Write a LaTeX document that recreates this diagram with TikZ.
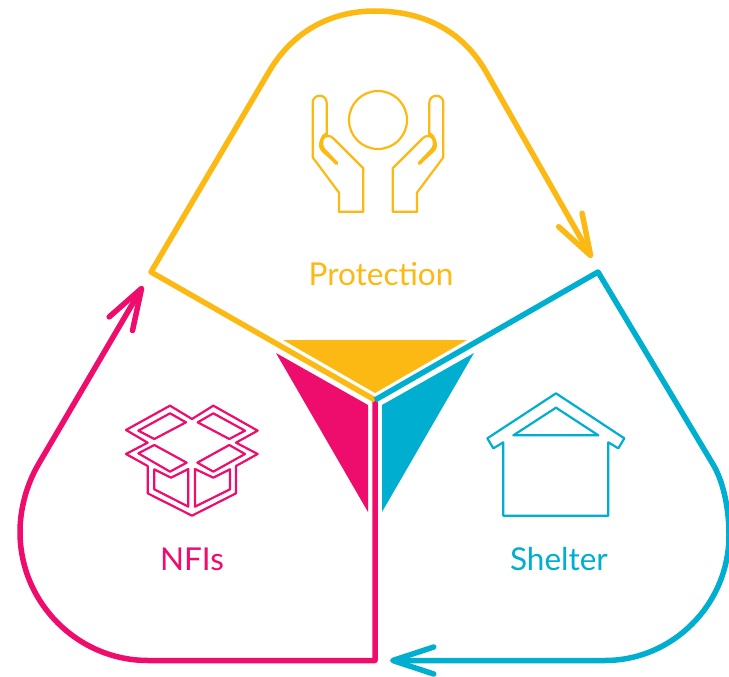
\documentclass[tikz,border=0pt]{standalone}
\usepackage{fontspec}
\setmainfont{Lato}
\usetikzlibrary{arrows.meta}
\definecolor{protectioncol}{HTML}{FDB913}
\definecolor{nficol}{HTML}{EE0C6C}
\definecolor{sheltercol}{HTML}{00AECF}
\tikzset{
  cycleline/.style={line width=5.5pt,line join=round},
  cyclearrow/.style={-{Straight Barb[length=41pt,width=27pt,round]}},
  iconline/.style={line width=2.2pt,line join=round,line cap=round},
  sectorlabel/.style={font=\fontsize{31.5}{34}\selectfont},
}
\begin{document}
\begin{tikzpicture}[x=1pt,y=-1pt]
\useasboundingbox (0,0) rectangle (729,677);
\coordinate (hub) at (375,400);
\coordinate (protcorner) at (151,272);
\coordinate (protend) at (592,258);
\coordinate (sheltcorner) at (598,272);
\coordinate (sheltend) at (390,660.5);
\coordinate (nficorner) at (375,660.5);
\coordinate (nfiend) at (143,286);

  % triangles in the middle
  \fill[protectioncol] (283,340)--(467,340)--(375,393)--cycle;
  \fill[nficol] (276,353)--(368,405)--(368,512)--cycle;
  \fill[sheltercol] (474,353)--(382,405)--(382,512)--cycle;

  % the three arrows
  \draw[cycleline,nficol,cyclearrow] (hub)--(nficorner)--(148,660.5)
    .. controls (78,660.5) and (20,603) .. (20,532)
    .. controls (20,510) and (26,486) .. (38,465)--(nfiend);
  \draw[cycleline,protectioncol,cyclearrow] (hub)--(protcorner)--(270,70)
    .. controls (293,32) and (330,11) .. (375,11)
    .. controls (420,11) and (460,28) .. (485,70)--(protend);
  \draw[cycleline,sheltercol,cyclearrow] (hub)--(sheltcorner)--(714,466)
    .. controls (724,484) and (729,510) .. (729,535)
    .. controls (729,605) and (672,660.5) .. (605,660.5)--(sheltend);

  % hands
  \draw[iconline,protectioncol] (378,120) circle (29);
  \foreach \s/\x in {1/290,-1/466}{
  \begin{scope}[shift={(\x,70)},xscale=\s/3,yscale=1/3]
    \draw[iconline,protectioncol] (147,425)--(147,368)--(68,262)--(68,98)
      arc (180:360:21)--(110,190);
    \draw[iconline,protectioncol] (147,425)--(220,425)--(220,295)--(130,205)
      .. controls (115,190) and (92,200) .. (90,225)
      .. controls (90,240) and (100,245) .. (140,280);
    \draw[iconline,protectioncol,line width=3.5pt] (140,280)--(100,238)
      .. controls (88,222) and (95,198) .. (110,192);
  \end{scope}
  }

  % box
  \begin{scope}[shift={(110,390)},scale=1/3]
    \draw[iconline,nficol] (48,120)--(113,158)--(48,192)--(113,228)--(113,310)--(246,377)
      --(378,310)--(378,228)--(443,192)--(378,158)--(443,122)--(310,47)--(246,87)--(180,47)--cycle;
    \draw[iconline,nficol] (85,122)--(180,70)--(228,97)--(133,147)--cycle;
    \draw[iconline,nficol] (263,97)--(310,70)--(405,122)--(358,147)--cycle;
    \draw[iconline,nficol] (85,190)--(133,165)--(230,218)--(180,245)--cycle;
    \draw[iconline,nficol] (262,218)--(358,165)--(405,192)--(310,245)--cycle;
    \draw[iconline,nficol] (133,238)--(183,263)--(235,237)--(235,350)--(133,298)--cycle;
    \draw[iconline,nficol] (255,237)--(310,263)--(360,238)--(360,298)--(255,350)--cycle;
  \end{scope}

  % house
  \begin{scope}[shift={(470,380)},scale=1/3]
    \draw[iconline,sheltercol] (52,175)--(258,40)--(463,175)--(445,205)--(415,187)--(415,407)
      --(100,407)--(100,187)--(70,205)--cycle;
    \draw[iconline,sheltercol] (130,166)--(258,83)--(385,166)--cycle;
  \end{scope}

  \node[sectorlabel,text=protectioncol] (protection) at (381,274) {Protection};
  \node[sectorlabel,text=nficol] (nfis) at (192,559) {NFIs};
  \node[sectorlabel,text=sheltercol] (shelter) at (559,559) {Shelter};
\end{tikzpicture}
\end{document}
